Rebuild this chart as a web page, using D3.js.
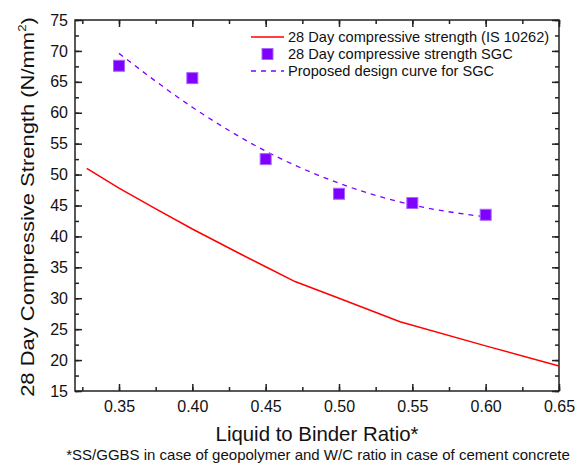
<!DOCTYPE html>
<html><head><meta charset="utf-8">
<script src="https://cdn.jsdelivr.net/npm/d3@7"></script>
<style>body{margin:0;background:#fff}svg{display:block}text{font-family:"Liberation Sans",Arial,sans-serif}</style>
</head><body>
<svg id="c" width="576" height="464"></svg>
<script>
// IS 10262 curve
const isX = [0.328, 0.35, 0.3745, 0.40, 0.4325, 0.45, 0.47, 0.50, 0.5416, 0.60, 0.65];
const isY = [51.0, 47.8, 44.55, 41.2, 37.2, 35.1, 32.7, 30.0, 26.2, 22.3, 19.05];
// SGC measured
const sgcX = [0.35, 0.40, 0.45, 0.50, 0.55, 0.60];
const sgcY = [67.6, 65.6, 52.5, 46.9, 45.4, 43.5];
// Proposed design curve
const curveX = [0.35, 0.40, 0.45, 0.50, 0.55, 0.60];
const curveY = [69.6, 60.9, 53.8, 48.6, 45.1, 43.15];
const xTicks = [0.35, 0.40, 0.45, 0.50, 0.55, 0.60, 0.65];
const yTicks = [15, 20, 25, 30, 35, 40, 45, 50, 55, 60, 65, 70, 75];
const legendLabels = ["28 Day compressive strength (IS 10262)", "28 Day compressive strength SGC", "Proposed design curve for SGC"];

const svg = d3.select("#c");
const L = 75, R = 559, T = 20, B = 391;
const x = d3.scaleLinear().domain([0.32, 0.65]).range([L, R]);
const y = d3.scaleLinear().domain([15, 75]).range([B, T]);
const xMinor = d3.range(0, 14).map(i => 0.325 + i * 0.025).filter(v => v <= 0.65 + 1e-9);
const yMinor = d3.range(0, 25).map(i => 15 + i * 2.5);
const axisColor = "#222";

function styleAxis(g) {
  g.select(".domain").remove();
  g.selectAll(".tick line").attr("stroke", axisColor).attr("stroke-width", 1.5);
  g.selectAll("text").attr("font-size", 16).attr("fill", "#111").attr("font-family", '"Liberation Sans",Arial,sans-serif');
}
// bottom
svg.append("g").attr("transform", `translate(0,${B})`)
  .call(d3.axisBottom(x).tickValues(xTicks).tickFormat(d3.format(".2f")).tickSize(-7).tickPadding(10)).call(styleAxis);
svg.append("g").attr("transform", `translate(0,${B})`)
  .call(d3.axisBottom(x).tickValues(xMinor).tickFormat("").tickSize(-4)).call(styleAxis);
// top
svg.append("g").attr("transform", `translate(0,${T})`)
  .call(d3.axisTop(x).tickValues(xTicks).tickFormat("").tickSize(-7)).call(styleAxis);
svg.append("g").attr("transform", `translate(0,${T})`)
  .call(d3.axisTop(x).tickValues(xMinor).tickFormat("").tickSize(-4)).call(styleAxis);
// left
svg.append("g").attr("transform", `translate(${L},0)`)
  .call(d3.axisLeft(y).tickValues(yTicks).tickSize(-7).tickPadding(7)).call(styleAxis);
svg.append("g").attr("transform", `translate(${L},0)`)
  .call(d3.axisLeft(y).tickValues(yMinor).tickFormat("").tickSize(-4)).call(styleAxis);
// right
svg.append("g").attr("transform", `translate(${R},0)`)
  .call(d3.axisRight(y).tickValues(yTicks).tickFormat("").tickSize(-7)).call(styleAxis);
svg.append("g").attr("transform", `translate(${R},0)`)
  .call(d3.axisRight(y).tickValues(yMinor).tickFormat("").tickSize(-4)).call(styleAxis);
// frame
svg.append("rect").attr("x", L).attr("y", T).attr("width", R - L).attr("height", B - T)
  .attr("fill", "none").attr("stroke", axisColor).attr("stroke-width", 1.5);

// IS line
svg.append("path").datum(isX.map((v, i) => [v, isY[i]]))
  .attr("fill", "none").attr("stroke", "#ff0000").attr("stroke-width", 1.5)
  .attr("d", d3.line().x(d => x(d[0])).y(d => y(d[1])));
// proposed curve
svg.append("path").datum(curveX.map((v, i) => [v, curveY[i]]))
  .attr("fill", "none").attr("stroke", "#8000ff").attr("stroke-width", 1.3).attr("stroke-dasharray", "5,5")
  .attr("d", d3.line().curve(d3.curveMonotoneX).x(d => x(d[0])).y(d => y(d[1])));
// markers
const ms = 11;
svg.append("g").selectAll("rect").data(sgcX.map((v, i) => [v, sgcY[i]])).join("rect")
  .attr("x", d => x(d[0]) - ms / 2).attr("y", d => y(d[1]) - ms / 2)
  .attr("width", ms).attr("height", ms).attr("fill", "#7f00ff").attr("stroke", "#a866ff").attr("stroke-width", 1);

// legend
const lg = svg.append("g");
const lx0 = 251, lx1 = 284, ltx = 288, lys = [37, 54, 71];
lg.append("line").attr("x1", lx0).attr("x2", lx1).attr("y1", lys[0]).attr("y2", lys[0]).attr("stroke", "#ff0000").attr("stroke-width", 1.5);
lg.append("rect").attr("x", 267.5 - ms / 2).attr("y", lys[1] - ms / 2).attr("width", ms).attr("height", ms).attr("fill", "#7f00ff").attr("stroke", "#a866ff").attr("stroke-width", 1);
lg.append("line").attr("x1", lx0).attr("x2", lx1).attr("y1", lys[2]).attr("y2", lys[2]).attr("stroke", "#8000ff").attr("stroke-width", 1.3).attr("stroke-dasharray", "5,5");
legendLabels.forEach((t, i) => {
  lg.append("text").attr("x", ltx).attr("y", lys[i]).attr("dy", "0.36em").attr("font-size", 14.6).attr("fill", "#111").text(t);
});

// axis titles
svg.append("text").attr("x", 317).attr("y", 441).attr("text-anchor", "middle").attr("font-size", 20.4).attr("fill", "#111").text("Liquid to Binder Ratio*");
const ytg = svg.append("g").attr("transform", "translate(34,207) rotate(-90)");
const yt = ytg.append("text").attr("text-anchor", "middle").attr("font-size", 19).attr("fill", "#111");
yt.append("tspan").text("28 Day Compressive Strength (N/mm");
yt.append("tspan").attr("font-size", 11.5).attr("dy", -8).text("2");
yt.append("tspan").attr("dy", 8).text(")");
const ytLen = yt.node().getComputedTextLength();
if (ytLen > 0) yt.attr("transform", `scale(${380 / ytLen},1)`);
svg.append("text").attr("x", 318).attr("y", 459.5).attr("text-anchor", "middle").attr("font-size", 15).attr("fill", "#111").text("*SS/GGBS in case of geopolymer and W/C ratio in case of cement concrete");
</script>
</body></html>
